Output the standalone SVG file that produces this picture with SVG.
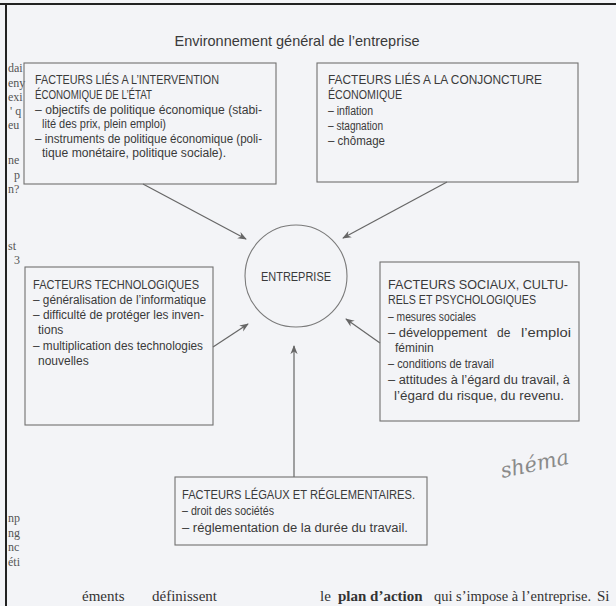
<svg xmlns="http://www.w3.org/2000/svg" width="616" height="606" viewBox="0 0 616 606">
<style>
.bg{fill:#f3f4f7}
.box{fill:none;stroke:#707070;stroke-width:1.1}
.t{font-family:"Liberation Sans",Arial,sans-serif;font-size:12px;fill:#3a3a3a}
.h{font-family:"Liberation Sans",Arial,sans-serif;font-size:12px;fill:#3a3a3a}
.title{font-family:"Liberation Sans",Arial,sans-serif;font-size:14.5px;fill:#3a3a3a}
.m{font-family:"Liberation Serif","Times New Roman",serif;font-size:12px;fill:#555}
.conn{stroke:#666;stroke-width:1.2;fill:none}
</style>
<defs>
<marker id="ah" viewBox="0 0 10 10" refX="9" refY="5" markerWidth="9" markerHeight="9" orient="auto" markerUnits="userSpaceOnUse">
<path d="M0,1 L10,5 L0,9 L3,5 z" fill="#666"/>
</marker>
</defs>
<rect class="bg" x="0" y="0" width="616" height="606"/>
<line x1="0" y1="4" x2="616" y2="4" stroke="#222" stroke-width="2"/>
<line x1="6" y1="4" x2="6" y2="606" stroke="#222" stroke-width="2"/>

<g id="margin">
<text class="m" x="8" y="72">dai</text>
<text class="m" x="8" y="87">eny</text>
<text class="m" x="8" y="101">exi</text>
<text class="m" x="10" y="115">' q</text>
<text class="m" x="8" y="129">eu</text>
<text class="m" x="8" y="164">ne</text>
<text class="m" x="14" y="179">p</text>
<text class="m" x="8" y="193">n?</text>
<text class="m" x="8" y="250">st</text>
<text class="m" x="14" y="264">3</text>
<text class="m" x="8" y="522">np</text>
<text class="m" x="8" y="537">ng</text>
<text class="m" x="8" y="551">nc</text>
<text class="m" x="8" y="566">éti</text>
</g>

<text class="title" x="297" y="46" text-anchor="middle">Environnement général de l’entreprise</text>

<g id="connectors">
<line class="conn" x1="143" y1="184" x2="246" y2="239" marker-end="url(#ah)"/>
<line class="conn" x1="447" y1="182" x2="343" y2="238" marker-end="url(#ah)"/>
<line class="conn" x1="213" y1="347" x2="248" y2="324" marker-end="url(#ah)"/>
<line class="conn" x1="380" y1="343" x2="346" y2="319" marker-end="url(#ah)"/>
<line class="conn" x1="294" y1="477" x2="294" y2="346" marker-end="url(#ah)"/>
</g>

<g id="etat">
<rect class="box" x="24" y="63" width="252" height="121"/>
<text class="h" x="35" y="84" textLength="184" lengthAdjust="spacingAndGlyphs">FACTEURS LIÉS A L’INTERVENTION</text>
<text class="h" x="35" y="99" textLength="117" lengthAdjust="spacingAndGlyphs">ÉCONOMIQUE DE L’ÉTAT</text>
<text class="t" x="35" y="114" textLength="227" lengthAdjust="spacingAndGlyphs">– objectifs de politique économique (stabi-</text>
<text class="t" x="42" y="128" textLength="124" lengthAdjust="spacingAndGlyphs">lité des prix, plein emploi)</text>
<text class="t" x="35" y="143" textLength="227" lengthAdjust="spacingAndGlyphs">– instruments de politique économique (poli-</text>
<text class="t" x="42" y="157" textLength="184" lengthAdjust="spacingAndGlyphs">tique monétaire, politique sociale).</text>
</g>

<g id="conjoncture">
<rect class="box" x="317" y="63" width="261" height="119"/>
<text class="h" x="328" y="84" textLength="214" lengthAdjust="spacingAndGlyphs">FACTEURS LIÉS A LA CONJONCTURE</text>
<text class="h" x="328" y="99" textLength="74" lengthAdjust="spacingAndGlyphs">ÉCONOMIQUE</text>
<text class="t" x="328" y="115" textLength="45" lengthAdjust="spacingAndGlyphs">– inflation</text>
<text class="t" x="328" y="130" textLength="55" lengthAdjust="spacingAndGlyphs">– stagnation</text>
<text class="t" x="328" y="145" textLength="57" lengthAdjust="spacingAndGlyphs">– chômage</text>
</g>

<g id="entreprise">
<circle cx="296" cy="276" r="51" fill="none" stroke="#7a7a7a" stroke-width="1.1"/>
<text class="h" x="261" y="281" textLength="70" lengthAdjust="spacingAndGlyphs">ENTREPRISE</text>
</g>

<g id="technologiques">
<rect class="box" x="25" y="267" width="188" height="158"/>
<text class="h" x="33" y="289" textLength="166" lengthAdjust="spacingAndGlyphs">FACTEURS TECHNOLOGIQUES</text>
<text class="t" x="33" y="304" textLength="173" lengthAdjust="spacingAndGlyphs">– généralisation de l’informatique</text>
<text class="t" x="33" y="319" textLength="171" lengthAdjust="spacingAndGlyphs">– difficulté de protéger les inven-</text>
<text class="t" x="38" y="334">tions</text>
<text class="t" x="33" y="350" textLength="170" lengthAdjust="spacingAndGlyphs">– multiplication des technologies</text>
<text class="t" x="38" y="365">nouvelles</text>
</g>

<g id="sociaux">
<rect class="box" x="380" y="262" width="199" height="159"/>
<text class="h" x="388" y="289" textLength="180" lengthAdjust="spacingAndGlyphs">FACTEURS SOCIAUX, CULTU-</text>
<text class="h" x="388" y="304" textLength="148" lengthAdjust="spacingAndGlyphs">RELS ET PSYCHOLOGIQUES</text>
<text class="t" x="388" y="321" textLength="88" lengthAdjust="spacingAndGlyphs">– mesures sociales</text>
<text class="t" x="388" y="337"><tspan textLength="99" lengthAdjust="spacingAndGlyphs">– développement</tspan><tspan x="497">de</tspan><tspan x="521" textLength="50" lengthAdjust="spacingAndGlyphs">l’emploi</tspan></text>
<text class="t" x="395" y="352">féminin</text>
<text class="t" x="388" y="368" textLength="106" lengthAdjust="spacingAndGlyphs">– conditions de travail</text>
<text class="t" x="388" y="384" textLength="182" lengthAdjust="spacingAndGlyphs">– attitudes à l’égard du travail, à</text>
<text class="t" x="394" y="400" textLength="170" lengthAdjust="spacingAndGlyphs">l’égard du risque, du revenu.</text>
</g>

<g id="legaux">
<rect class="box" x="175" y="477" width="252" height="68"/>
<text class="h" x="182" y="499" textLength="233" lengthAdjust="spacingAndGlyphs">FACTEURS LÉGAUX ET RÉGLEMENTAIRES.</text>
<text class="t" x="182" y="515" textLength="92" lengthAdjust="spacingAndGlyphs">– droit des sociétés</text>
<text class="t" x="182" y="532" textLength="226" lengthAdjust="spacingAndGlyphs">– réglementation de la durée du travail.</text>
</g>

<text x="500" y="474" transform="rotate(-12 520 465)" font-family="'DejaVu Serif',serif" font-style="italic" font-size="21" fill="#8a8a8a">shéma</text>

<text y="601" font-family="'Liberation Serif','Times New Roman',serif" font-size="15" fill="#333"><tspan x="82">éments</tspan><tspan x="152">définissent</tspan><tspan x="320">le</tspan><tspan x="338" font-weight="bold">plan d’action</tspan><tspan x="434" textLength="157" lengthAdjust="spacingAndGlyphs">qui s’impose à l’entreprise.</tspan><tspan x="597">Si</tspan></text>
</svg>
